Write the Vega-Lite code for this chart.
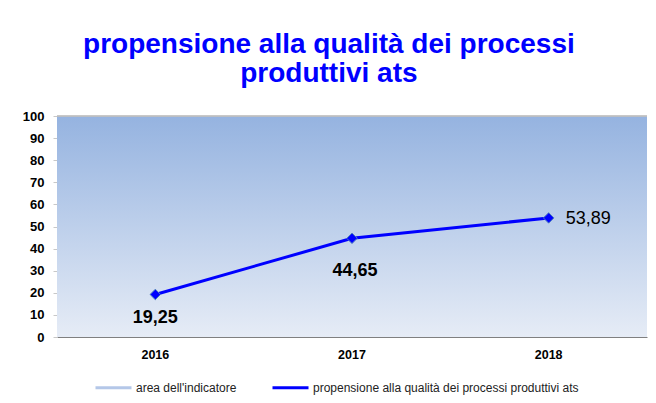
{
  "$schema": "https://vega.github.io/schema/vega-lite/v6.json",
  "width": 590,
  "height": 221,
  "autosize": {"type": "none"},
  "padding": {"left": 57, "top": 116, "right": 9, "bottom": 66},
  "background": "white",
  "config": {
    "font": "Liberation Sans",
    "view": {"stroke": null},
    "axisY": {
      "title": null,
      "labelOverlap": false,
      "grid": false,
      "domain": false,
      "tickSize": 4,
      "tickColor": "#C8C8C8",
      "labelFont": "Liberation Sans",
      "labelFontSize": 13,
      "labelFontWeight": "bold",
      "labelColor": "#000000",
      "labelPadding": 9
    },
    "locale": {"number": {"decimal": ",", "thousands": ".", "grouping": [3], "currency": ["€", ""]}}
  },
  "title": {
    "text": ["propensione alla qualità dei processi", "produttivi ats"],
    "font": "Liberation Sans",
    "fontSize": 28,
    "fontWeight": "bold",
    "color": "#0000FF",
    "anchor": "middle",
    "frame": "bounds",
    "lineHeight": 29,
    "offset": 22,
    "dx": -6
  },
  "data": {
    "values": [
      {"anno": "2016", "valore": 19.25},
      {"anno": "2017", "valore": 44.65},
      {"anno": "2018", "valore": 53.89}
    ]
  },
  "layer": [
    {
      "data": {"values": [{"serie": "area dell'indicatore", "min": 0, "max": 100}]},
      "mark": {
        "type": "rect",
        "strokeWidth": 0,
        "fill": {
          "gradient": "linear",
          "x1": 0, "y1": 0, "x2": 0, "y2": 1,
          "stops": [
            {"offset": 0, "color": "#95B3E0"},
            {"offset": 1, "color": "#E6ECF6"}
          ]
        }
      },
      "encoding": {
        "y": {
          "field": "min",
          "type": "quantitative",
          "scale": {"domain": [0, 100], "nice": false},
          "axis": {"title": null, "tickCount": 10, "labelOverlap": false, "labelFontSize": 13, "labelFontWeight": "bold", "labelColor": "#000000", "labelPadding": 9, "tickSize": 4, "tickColor": "#C8C8C8", "domain": false, "grid": false}
        },
        "y2": {"field": "max"},
        "stroke": {
          "field": "serie",
          "type": "nominal",
          "scale": {
            "domain": ["area dell'indicatore", "propensione alla qualità dei processi produttivi ats"],
            "range": ["#B4C7E8", "#0000FF"]
          },
          "legend": {
            "title": null,
            "orient": "none",
            "direction": "horizontal",
            "legendX": 37,
            "legendY": 252,
            "symbolType": "stroke",
            "symbolSize": 1296,
            "symbolStrokeWidth": 3,
            "labelFont": "Liberation Sans",
            "labelFontSize": 12,
            "labelColor": "#222222",
            "labelOffset": 3,
            "labelLimit": 500,
            "columnPadding": 29,
            "symbolOpacity": 1,
            "encode": {"symbols": {"update": {"strokeWidth": {"value": 3}, "strokeOpacity": {"value": 1}}}}
          }
        }
      }
    },
    {
      "mark": {"type": "rule", "color": "#C0C0C0", "strokeWidth": 1},
      "encoding": {"y": {"datum": 100, "type": "quantitative", "axis": {"title": null, "tickCount": 10, "labelOverlap": false}}}
    },
    {
      "mark": {"type": "line", "strokeWidth": 3, "color": "#0000FF"},
      "encoding": {
        "x": {
          "field": "anno",
          "type": "nominal",
          "scale": {"type": "band", "paddingInner": 0, "paddingOuter": 0},
          "axis": {
            "title": null,
            "labelAngle": 0,
            "labelFont": "Liberation Sans",
            "labelFontSize": 12.5,
            "labelFontWeight": "bold",
            "labelColor": "#000000",
            "labelPadding": 11,
            "ticks": false,
            "domainColor": "#808080",
            "domainWidth": 1
          }
        },
        "y": {"field": "valore", "type": "quantitative", "axis": {"title": null, "tickCount": 10, "labelOverlap": false}},
        "stroke": {"datum": "propensione alla qualità dei processi produttivi ats", "type": "nominal"}
      }
    },
    {
      "mark": {"type": "point", "shape": "diamond", "filled": true, "size": 110, "fill": "#0000FF", "stroke": "#4F81BD", "strokeWidth": 1, "opacity": 1},
      "encoding": {
        "x": {"field": "anno", "type": "nominal"},
        "y": {"field": "valore", "type": "quantitative", "axis": {"title": null, "tickCount": 10, "labelOverlap": false}}
      }
    },
    {
      "transform": [{"filter": "datum.anno == '2016'"}],
      "mark": {"type": "text", "fontSize": 18, "fontWeight": "bold", "font": "Liberation Sans", "color": "#000000", "dy": 24},
      "encoding": {
        "x": {"field": "anno", "type": "nominal"},
        "y": {"field": "valore", "type": "quantitative", "axis": {"title": null, "tickCount": 10, "labelOverlap": false}},
        "text": {"field": "valore", "type": "quantitative", "format": ".2f"}
      }
    },
    {
      "transform": [{"filter": "datum.anno == '2017'"}],
      "mark": {"type": "text", "fontSize": 18, "fontWeight": "bold", "font": "Liberation Sans", "color": "#000000", "dy": 33, "dx": 3},
      "encoding": {
        "x": {"field": "anno", "type": "nominal"},
        "y": {"field": "valore", "type": "quantitative", "axis": {"title": null, "tickCount": 10, "labelOverlap": false}},
        "text": {"field": "valore", "type": "quantitative", "format": ".2f"}
      }
    },
    {
      "transform": [{"filter": "datum.anno == '2018'"}],
      "mark": {"type": "text", "fontSize": 18, "font": "Liberation Sans", "color": "#000000", "align": "left", "dx": 17, "dy": 1},
      "encoding": {
        "x": {"field": "anno", "type": "nominal"},
        "y": {"field": "valore", "type": "quantitative", "axis": {"title": null, "tickCount": 10, "labelOverlap": false}},
        "text": {"field": "valore", "type": "quantitative", "format": ".2f"}
      }
    }
  ]
}
